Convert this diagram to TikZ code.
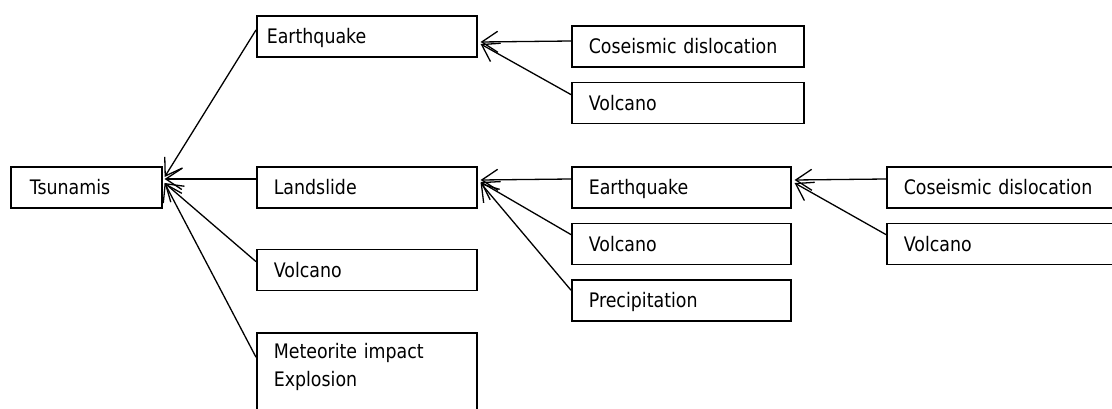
\documentclass[tikz,border=0pt]{standalone}
\usepackage{fontspec}
\setmainfont{DejaVu Sans}[FakeStretch=0.87]
\usepackage{tikz}
\usetikzlibrary{arrows.meta,positioning}

\begin{document}
\begin{tikzpicture}[
  x=1pt, y=-1pt,
  box/.style={draw, line width=1.6pt, anchor=north west, text width=#1,
    inner xsep=17pt, inner ysep=4pt, minimum height=41pt,
    text height=14.5pt, text depth=0pt, align=left,
    font=\fontsize{20}{28}\selectfont},
  arrow/.style={-{Straight Barb[length=16pt,width=21pt]}, line width=1.3pt},
]
  \useasboundingbox (0,0) rectangle (1112,409);
  \clip (0,0) rectangle (1112,409);

  % first column
  \node[box=113, inner xsep=19pt] (tsu) at (10,166) {Tsunamis};

  % second column
  \node[box=200, inner xsep=10pt] (quakeA) at (256,15) {Earthquake};
  \node[box=186] (slide) at (256,166) {Landslide};
  \node[box=186, below=40pt of slide] (volcA) {Volcano};
  \node[box=186, below=41pt of volcA, text height=15pt, text depth=75pt,
    inner ysep=10pt, minimum height=0pt] (impact) {Meteorite impact\\Explosion};

  % third column
  \node[box=198] (coseisA) at (571,25) {Coseismic dislocation};
  \node[box=198, below=14pt of coseisA] (volcB) {Volcano};
  \node[box=185] (quakeB) at (571,166) {Earthquake};
  \node[box=185, below=14pt of quakeB] (volcC) {Volcano};
  \node[box=185, below=14pt of volcC] (rain) {Precipitation};

  % fourth column
  \node[box=216] (coseisB) at (886,166) {Coseismic dislocation};
  \node[box=216, below=14pt of coseisB] (volcD) {Volcano};

  % causes of tsunamis
  \draw[arrow] ([yshift=-15pt]quakeA.north west) -- ([xshift=2pt,yshift=-11pt]tsu.north east);
  \draw[arrow] ([yshift=-13pt]slide.north west) -- ([xshift=2pt,yshift=-13pt]tsu.north east);
  \draw[arrow] ([yshift=-13pt]volcA.north west) -- ([xshift=2pt,yshift=-17pt]tsu.north east);
  \draw[arrow] ([yshift=-25pt]impact.north west) -- ([xshift=2pt,yshift=-17pt]tsu.north east);

  % causes of earthquakes
  \draw[arrow] ([yshift=-16pt]coseisA.north west) -- ([xshift=3pt,yshift=-27pt]quakeA.north east);
  \draw[arrow] ([yshift=-13pt]volcB.north west) -- ([xshift=3pt,yshift=-29pt]quakeA.north east);

  % causes of landslides
  \draw[arrow] ([yshift=-13pt]quakeB.north west) -- ([xshift=3pt,yshift=-14pt]slide.north east);
  \draw[arrow] ([yshift=-12pt]volcC.north west) -- ([xshift=3pt,yshift=-16pt]slide.north east);
  \draw[arrow] ([yshift=-11pt]rain.north west) -- ([xshift=3pt,yshift=-17pt]slide.north east);

  % causes of earthquakes (landslide branch)
  \draw[arrow] ([yshift=-13pt]coseisB.north west) -- ([xshift=3pt,yshift=-14pt]quakeB.north east);
  \draw[arrow] ([yshift=-12pt]volcD.north west) -- ([xshift=3pt,yshift=-17pt]quakeB.north east);
\end{tikzpicture}
\end{document}
